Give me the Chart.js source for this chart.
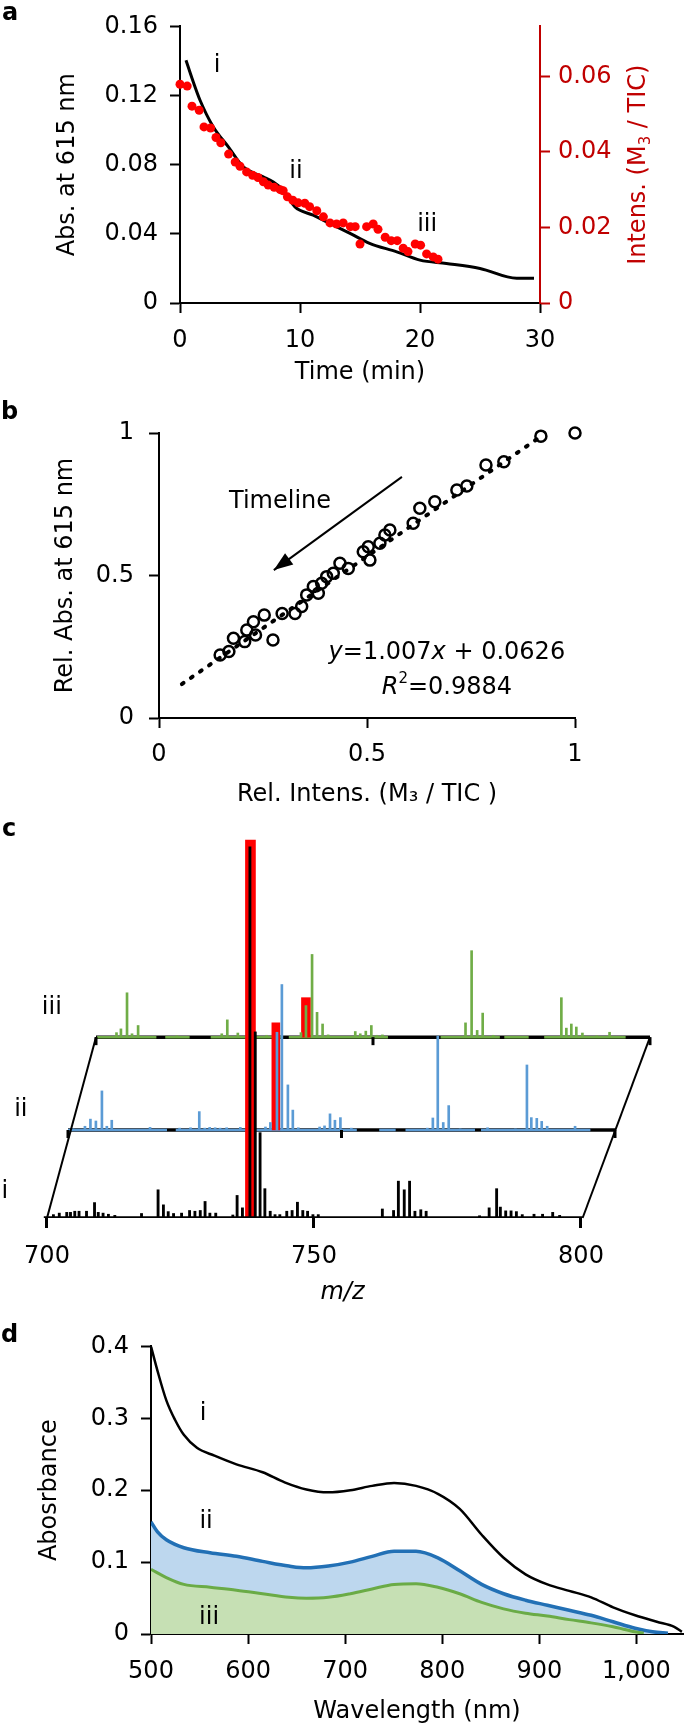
<!DOCTYPE html>
<html>
<head>
<meta charset="utf-8">
<script src="https://cdn.jsdelivr.net/npm/chart.js@4.4.1/dist/chart.umd.min.js"></script>
<style>
  html, body { margin: 0; padding: 0; background: #fff; }
  body { position: relative; width: 685px; height: 1729px; overflow: hidden; }
  canvas { position: absolute; left: 0; }
  .tag { position: absolute; z-index: 2; font: bold 24px "DejaVu Sans", sans-serif; line-height: 1; }
</style>
</head>
<body>
<canvas id="panelA" width="685" height="400" style="top:0"></canvas>
<canvas id="panelB" width="685" height="420" style="top:400px"></canvas>
<canvas id="panelC" width="685" height="500" style="top:820px"></canvas>
<canvas id="panelD" width="685" height="409" style="top:1320px"></canvas>
<div class="tag" style="left:2px;top:0px">a</div>
<div class="tag" style="left:1px;top:399px">b</div>
<div class="tag" style="left:2px;top:816px">c</div>
<div class="tag" style="left:1px;top:1322px">d</div>
<script>
// ---- panel a: absorbance (left axis) and M3 intensity (right axis) vs time
const timeTicks   = [0, 10, 20, 30];
const absTicks    = [0, 0.04, 0.08, 0.12, 0.16];
const intensTicks = [0, 0.02, 0.04, 0.06];
const absTime  = [0.5, 1.0, 1.67, 2.78, 4.03, 5.28, 6.94, 7.78, 8.6, 9.58, 11.1, 12.5, 14.17, 15.8, 18.06, 20.0, 22.2, 25.0, 28.06, 29.5];
const absValue = [0.1404, 0.130, 0.1173, 0.1018, 0.0903, 0.0787, 0.0730, 0.0700, 0.0653, 0.0556, 0.0508, 0.0460, 0.0403, 0.0345, 0.0296, 0.0248, 0.0229, 0.0200, 0.0143, 0.0143];
const intensTime  = [0, 0.6, 1.0, 1.6, 2.0, 2.55, 3.0, 3.4, 4.05, 4.6, 5.0, 5.55, 6.05, 6.5, 6.95, 7.35, 7.85, 8.35, 8.6, 8.95,
                     9.4, 9.85, 10.4, 10.8, 11.4, 11.95, 12.5, 13.05, 13.6, 14.2, 14.6, 15.0, 15.55, 16.1, 16.5, 17.1, 17.6, 18.1, 18.6, 19.0,
                     19.6, 20.05, 20.55, 21.1, 21.5];
const intensValue = [0.0579, 0.0574, 0.0521, 0.0510, 0.0466, 0.0463, 0.0438, 0.0424, 0.0394, 0.0373, 0.0362, 0.0347, 0.0338, 0.0332, 0.0321, 0.0312, 0.0306, 0.0300, 0.0297, 0.0281,
                     0.0272, 0.0265, 0.0264, 0.0255, 0.0244, 0.0228, 0.0212, 0.0209, 0.0212, 0.0202, 0.0202, 0.0156, 0.0202, 0.0209, 0.0195, 0.0174, 0.0165, 0.0165, 0.0145, 0.0136,
                     0.0156, 0.0153, 0.0130, 0.0122, 0.0116];

// ---- panel b: relative absorbance vs relative intensity
const relTicks  = [0, 0.5, 1];
const relIntens = [1.0, 0.918, 0.829, 0.786, 0.740, 0.716, 0.663, 0.627, 0.611, 0.555, 0.543, 0.531, 0.507, 0.503, 0.491, 0.455, 0.435, 0.419,
                   0.403, 0.391, 0.383, 0.371, 0.355, 0.343, 0.327, 0.296, 0.253, 0.227, 0.274, 0.232, 0.206, 0.179, 0.168, 0.147, 0.211];
const relAbs    = [1.0, 0.989, 0.899, 0.888, 0.814, 0.800, 0.759, 0.736, 0.683, 0.660, 0.642, 0.613, 0.554, 0.601, 0.583, 0.525, 0.543, 0.508,
                   0.496, 0.473, 0.438, 0.461, 0.432, 0.391, 0.367, 0.367, 0.361, 0.338, 0.274, 0.291, 0.268, 0.280, 0.233, 0.221, 0.309];
const fitX = [0.055, 0.925];
const fitY = [0.119, 0.995];
const arrowX = [0.584, 0.276];
const arrowY = [0.846, 0.519];

// ---- panel c: mass spectra i (front), ii, iii (back), relative intensity %
const mzTicks = [700, 750, 800];
const mzI   = [701.2, 702.3, 703.7, 704.4, 705.2, 706.0, 707.4, 708.9, 709.6, 710.5, 711.5, 712.7, 717.7, 720.8, 721.8, 722.7, 723.7, 725.2,
               726.7, 727.7, 728.7, 729.6, 730.5, 731.6, 734.8, 735.6, 736.6, 738.0, 739.0, 739.9, 740.8, 741.8, 742.7, 743.6, 744.9,
               745.9, 746.9, 747.9, 748.8, 749.8, 750.8, 762.8, 764.9, 765.8, 766.9, 767.9, 768.9, 770.0, 771.0, 781.0, 782.8, 784.2,
               784.9, 785.9, 786.9, 787.9, 789.0, 791.2, 792.8, 794.7, 796.0];
const intI  = [0.9, 1.3, 1.5, 1.5, 1.8, 1.8, 1.8, 4.1, 1.5, 1.3, 1.0, 0.7, 1.2, 7.5, 3.5, 1.7, 1.2, 1.3,
               2.0, 1.8, 2.0, 4.4, 1.3, 1.3, 0.8, 6.0, 2.7, 98.7, 49.5, 22.7, 7.8, 1.8, 0.9, 0.9, 1.8,
               2.0, 4.2, 2.0, 1.8, 0.9, 0.9, 2.4, 2.0, 9.8, 7.5, 9.8, 1.8, 2.2, 1.8, 0.6, 2.7, 7.8,
               2.9, 1.9, 1.9, 1.7, 0.9, 1.0, 1.0, 1.5, 0.7];
const mzII  = [700.9, 703.1, 704.1, 705.1, 706.2, 707.1, 708.0, 715.0, 720.4, 722.4, 724.0, 725.0, 725.9, 726.9, 727.8, 729.0, 731.5, 733.1,
               736.1, 737.0, 738.2, 739.1, 740.2, 741.1, 742.1, 746.0, 746.9, 747.9, 748.8, 749.8, 751.8, 765.7, 766.7, 767.6, 768.6,
               769.6, 771.7, 776.7, 781.8, 783.9, 784.7, 785.7, 786.6, 787.6, 792.7];
const intII = [0.3, 1.0, 2.9, 2.4, 10.4, 1.0, 2.6, 0.7, 0.5, 0.6, 4.9, 0.5, 0.7, 0.6, 0.5, 0.6, 0.7, 0.4,
               0.8, 2.0, 26.0, 38.7, 12.0, 5.3, 0.6, 0.8, 1.1, 4.3, 2.6, 3.3, 0.5, 0.5, 3.2, 25.0, 2.0,
               6.5, 0.3, 0.6, 0.3, 17.3, 3.3, 3.1, 2.3, 1.0, 1.0];
const mzIII  = [703.7, 704.5, 705.6, 706.5, 707.6, 714.6, 722.7, 723.7, 725.6, 730.8, 737.0, 737.9, 739.0, 739.9, 740.9, 741.9, 746.8,
                747.7, 748.7, 749.7, 750.7, 751.7, 766.7, 767.8, 768.8, 769.8, 771.7, 784.0, 784.9, 785.8, 786.7, 787.8, 790.4, 792.7];
const intIII = [1.2, 2.2, 11.8, 0.9, 3.1, 0.4, 0.9, 4.6, 1.1, 0.5, 1.2, 8.4, 22.0, 6.6, 3.5, 0.6, 1.5,
                0.9, 1.6, 3.1, 0.5, 0.6, 3.8, 23.0, 1.8, 6.4, 0.5, 10.5, 2.4, 3.5, 2.7, 1.1, 0.4, 1.3];
const m3Mz  = [738.1, 738.0, 737.9];   // highlighted M3 peak in i, ii, iii
const m3Top = [100.5, 28.5, 10.5];
const baseSegsII  = [[700, 718.1], [719.7, 752.8], [756.9, 759.9], [761.7, 774.4], [775.5, 795.5]];
const baseSegsIII = [[700.2, 710.9], [712.5, 716.9], [720.7, 733.6], [734.8, 752.7], [762.2, 772.9], [773.7, 778.1], [780.9, 795.6]];

// ---- panel d: absorption spectra
const wlTicks  = [500, 600, 700, 800, 900, 1000];
const absDTicks = [0, 0.1, 0.2, 0.3, 0.4];
const wlI   = [500, 506.7, 515.8, 524.7, 533.8, 547.3, 565.4, 588, 615, 637.6, 660.1, 682.7, 705.3, 727.8, 750.4, 773, 795.5, 818,
               840.6, 863.2, 885.8, 908.3, 930.8, 953.4, 976, 998.6, 1021, 1039, 1046.8];
const absI  = [0.400, 0.366, 0.325, 0.298, 0.277, 0.259, 0.248, 0.236, 0.225, 0.211, 0.201, 0.197, 0.200, 0.206, 0.210, 0.206, 0.195, 0.174,
               0.138, 0.106, 0.083, 0.069, 0.060, 0.051, 0.037, 0.026, 0.017, 0.010, 0.003];
const wlII  = [500, 506.7, 515.8, 533.8, 560.9, 588, 615, 642, 660, 682.7, 705.3, 727.8, 750.4, 773, 795.5, 818, 840.6, 863.2,
               885.8, 908.3, 930.8, 953.4, 976, 998.6, 1016.7, 1032.5];
const absII = [0.156, 0.142, 0.131, 0.120, 0.113, 0.108, 0.101, 0.0945, 0.092, 0.0945, 0.100, 0.108, 0.115, 0.115, 0.106, 0.088, 0.069, 0.056,
               0.047, 0.040, 0.033, 0.026, 0.017, 0.008, 0.003, 0.001];
const wlIII  = [500, 515.8, 533.8, 560.9, 588, 615, 642, 660, 682.7, 705.3, 727.8, 750.4, 773, 795.5, 818, 840.6, 863.2, 885.8,
                908.3, 930.8, 953.4, 976, 998.6, 1007.6];
const absIII = [0.090, 0.0785, 0.069, 0.065, 0.061, 0.056, 0.051, 0.0497, 0.051, 0.056, 0.0626, 0.069, 0.070, 0.065, 0.056, 0.044, 0.035, 0.029,
                0.025, 0.020, 0.0155, 0.010, 0.003, 0.001];

const FAMILY = '"DejaVu Sans", sans-serif';
const RED_AXIS = '#c00000';
Chart.defaults.font.family = FAMILY;
Chart.defaults.color = '#000';
Chart.defaults.animation = false;
Chart.defaults.responsive = false;
Chart.defaults.devicePixelRatio = 1;
Chart.defaults.plugins.legend.display = false;
Chart.defaults.plugins.tooltip.enabled = false;

function pairs(xs, ys) { return xs.map((x, i) => ({ x: x, y: ys[i] })); }
function fixedTicks(values) { return scale => { scale.ticks = values.map(v => ({ value: v })); }; }
function numLabel(v) { return v === 0 ? '0' : String(+v.toFixed(3)); }

function richText(ctx, parts, x, y, size, color) {
  const fontFor = p => (p.italic ? 'italic ' : '') + ((p.sup || p.sub) ? Math.round(size * 0.62) : size) + 'px ' + FAMILY;
  let total = 0;
  const widths = parts.map(p => { ctx.font = fontFor(p); const w = ctx.measureText(p.text).width; total += w; return w; });
  let cx = x - total / 2;
  ctx.fillStyle = color;
  ctx.textAlign = 'left';
  ctx.textBaseline = 'middle';
  parts.forEach((p, i) => {
    ctx.font = fontFor(p);
    const dy = p.sup ? -size * 0.36 : p.sub ? size * 0.3 : 0;
    ctx.fillText(p.text, cx, y + dy);
    cx += widths[i];
  });
}

// text notes placed at data coordinates
const notesPlugin = {
  id: 'notes',
  afterDatasetsDraw(chart, args, opts) {
    const ctx = chart.ctx;
    ctx.save();
    (opts.items || []).forEach(n => {
      const px = chart.scales[n.xAxis || 'x'].getPixelForValue(n.x);
      const py = chart.scales[n.yAxis || 'y'].getPixelForValue(n.y);
      richText(ctx, n.parts, px, py, n.size || 24, n.color || '#000');
    });
    ctx.restore();
  }
};

function axis(o) {
  const color = o.color || '#000';
  return {
    type: 'linear', position: o.position, min: o.min, max: o.max, offset: false,
    afterBuildTicks: fixedTicks(o.ticks),
    afterFit: s => { if (o.width != null) s.width = o.width; if (o.height != null) s.height = o.height; },
    grid: { drawOnChartArea: false, drawTicks: true, tickLength: 10, tickWidth: 2, tickColor: color, offset: false },
    border: { display: true, color: color, width: 2 },
    ticks: { color: color, font: { size: o.size || 24 }, padding: o.pad, callback: o.fmt || numLabel },
    title: o.title ? { display: true, text: o.title, color: color, font: { size: o.size || 24, style: o.titleStyle || 'normal' },
                       padding: o.titlePad } : { display: false }
  };
}

// ================= panel a =================
new Chart(document.getElementById('panelA'), {
  type: 'line',
  data: { datasets: [
    { data: pairs(intensTime, intensValue), yAxisID: 'y2', showLine: false, pointRadius: 4.5,
      pointBackgroundColor: '#ff0000', pointBorderWidth: 0, clip: false, order: 0 },
    { data: pairs(absTime, absValue), yAxisID: 'y', borderColor: '#000', borderWidth: 3, pointRadius: 0,
      cubicInterpolationMode: 'monotone', order: 1 }
  ]},
  options: {
    layout: { padding: { top: 26 } },
    scales: {
      x: axis({ position: 'bottom', min: 0, max: 30, ticks: timeTicks, height: 97, pad: 13, fmt: v => String(v),
                title: 'Time (min)', titlePad: { top: 0, bottom: 12.6 } }),
      y: axis({ position: 'left', min: 0, max: 0.16, ticks: absTicks, width: 180, pad: 12,
                title: 'Abs. at 615 nm', titlePad: { top: 53.6, bottom: 0 } }),
      y2: axis({ position: 'right', min: 0, max: 0.0732, ticks: intensTicks, width: 145, pad: 8, color: RED_AXIS })
    },
    plugins: { notes: { items: [
      { x: 3.08, y: 0.1375, parts: [{ text: 'i' }] },
      { x: 9.67, y: 0.0757, parts: [{ text: 'ii' }] },
      { x: 20.6, y: 0.0451, parts: [{ text: 'iii' }] }
    ]}}
  },
  plugins: [notesPlugin, {
    id: 'rightTitle',
    afterDraw(chart) {
      const s = chart.scales.y2, ctx = chart.ctx;
      ctx.save();
      ctx.translate(s.right - 46, (s.top + s.bottom) / 2);
      ctx.rotate(-Math.PI / 2);
      richText(ctx, [{ text: 'Intens. (M' }, { text: '3', sub: true }, { text: ' / TIC)' }], 0, 0, 24, RED_AXIS);
      ctx.restore();
    }
  }]
});

// ================= panel b =================
new Chart(document.getElementById('panelB'), {
  type: 'line',
  data: { datasets: [
    { data: pairs(relIntens, relAbs), showLine: false, pointRadius: 5.5, pointBorderWidth: 2.5,
      pointBorderColor: '#000', pointBackgroundColor: 'rgba(0,0,0,0)', clip: false },
    { data: pairs(fitX, fitY), borderColor: '#000', borderWidth: 4, borderDash: [2, 9], borderCapStyle: 'round',
      pointRadius: 0, clip: false },
    { data: pairs(arrowX, arrowY), borderColor: '#000', borderWidth: 2, pointRadius: 0 }
  ]},
  options: {
    layout: { padding: { top: 33, right: 110 } },
    scales: {
      x: axis({ position: 'bottom', min: 0, max: 1, ticks: relTicks, height: 102, pad: 12,
                title: 'Rel. Intens. (M\u2083 / TIC )', titlePad: { top: 0, bottom: 10.6 } }),
      y: axis({ position: 'left', min: 0, max: 1, ticks: relTicks, width: 159, pad: 15,
                title: 'Rel. Abs. at 615 nm', titlePad: { top: 51.6, bottom: 0 } })
    },
    plugins: { notes: { items: [
      { x: 0.291, y: 0.758, parts: [{ text: 'Timeline' }] },
      { x: 0.692, y: 0.228, parts: [{ text: 'y', italic: true }, { text: '=1.007' }, { text: 'x', italic: true }, { text: ' + 0.0626' }] },
      { x: 0.692, y: 0.105, parts: [{ text: 'R', italic: true }, { text: '2', sup: true }, { text: '=0.9884' }] }
    ]}}
  },
  plugins: [notesPlugin, {
    id: 'arrowHead',
    afterDatasetsDraw(chart) {
      const pts = chart.getDatasetMeta(2).data, ctx = chart.ctx;
      const a = pts[0], b = pts[1];
      ctx.save();
      ctx.translate(b.x, b.y);
      ctx.rotate(Math.atan2(b.y - a.y, b.x - a.x));
      ctx.fillStyle = '#000';
      ctx.beginPath(); ctx.moveTo(0, 0); ctx.lineTo(-19, -7); ctx.lineTo(-19, 7); ctx.closePath(); ctx.fill();
      ctx.restore();
    }
  }]
});

// ================= panel c =================
const C_WIDTH = 685;
function layerX(px700, px800) {
  const unit = (px800 - px700) / 100;
  return { min: 700 - px700 / unit, max: 800 + (C_WIDTH - px800) / unit };
}
const Y_SPAN = 103.2;
function layerY(offset) { return { min: -offset, max: Y_SPAN - offset }; }
function hiddenScale(range) { return { type: 'linear', display: false, offset: false, min: range.min, max: range.max }; }
function segLine(segs) {
  const out = [];
  segs.forEach(s => { out.push({ x: s[0], y: 0 }, { x: s[1], y: 0 }, { x: s[1], y: null }); });
  return out;
}
const GREEN = '#70ad47', BLUE = '#5b9bd5';
const rangeI = layerX(47, 581), rangeII = layerX(68, 615), rangeIII = layerX(96, 650);

function peaks(mz, val, color, xa, ya, thick, order) {
  return { type: 'bar', data: pairs(mz, val), xAxisID: xa, yAxisID: ya, backgroundColor: color, borderWidth: 0,
           barThickness: thick, grouped: false, order: order };
}
function base(data, color, width, xa, ya, order) {
  return { type: 'line', data: data, xAxisID: xa, yAxisID: ya, borderColor: color, borderWidth: width,
           pointRadius: 0, spanGaps: false, order: order };
}

new Chart(document.getElementById('panelC'), {
  type: 'bar',
  data: { datasets: [
    base([{ x: 700, y: 0 }, { x: 800, y: 0 }], '#000', 3.5, 'x3', 'y3', 100),
    base(segLine(baseSegsIII), GREEN, 2.5, 'x3', 'y3', 99),
    peaks([m3Mz[2]], [m3Top[2]], '#ff0000', 'x3', 'y3', 9, 98),
    peaks(mzIII, intIII, GREEN, 'x3', 'y3', 2, 97),
    base([{ x: 700, y: 0 }, { x: 800, y: 0 }], '#000', 3.5, 'x2', 'y2', 90),
    base(segLine(baseSegsII), BLUE, 2.5, 'x2', 'y2', 89),
    peaks([m3Mz[1]], [m3Top[1]], '#ff0000', 'x2', 'y2', 8, 88),
    peaks(mzII, intII, BLUE, 'x2', 'y2', 2, 87),
    peaks([m3Mz[0]], [m3Top[0]], '#ff0000', 'x', 'y', 10, 80),
    base([{ x: 699.4, y: 0 }, { x: 800.3, y: 0 }], '#000', 3.5, 'x', 'y', 79),
    peaks(mzI, intI, '#000', 'x', 'y', 2.2, 78)
  ]},
  options: {
    indexAxis: 'x',
    layout: { padding: { top: 10, left: 0, right: 0 } },
    scales: {
      x: {
        type: 'linear', position: 'bottom', min: rangeI.min, max: rangeI.max, offset: false,
        afterBuildTicks: fixedTicks(mzTicks),
        afterFit: s => { s.height = 102; },
        grid: { drawOnChartArea: false, drawTicks: true, tickLength: 10, tickWidth: 3, tickColor: '#000', offset: false },
        border: { display: false },
        ticks: { font: { size: 24 }, padding: 14, callback: v => String(v) },
        title: { display: true, text: 'm/z', font: { size: 24, style: 'italic' }, padding: { top: 0, bottom: 13 } }
      },
      y: hiddenScale(layerY(0)),
      x2: hiddenScale(rangeII), y2: hiddenScale(layerY(23.4)),
      x3: hiddenScale(rangeIII), y3: hiddenScale(layerY(48.1))
    },
    plugins: { notes: { items: [
      { x: 700.9, y: 55.9, parts: [{ text: 'iii' }] },
      { x: 695.1, y: 28.7, parts: [{ text: 'ii' }] },
      { x: 692.1, y: 6.9, parts: [{ text: 'i' }] }
    ]}}
  },
  plugins: [notesPlugin, {
    id: 'stackFrame',
    afterDatasetsDraw(chart) {
      const s = chart.scales, ctx = chart.ctx;
      ctx.save();
      ctx.strokeStyle = '#000';
      ctx.lineWidth = 2;
      [[700, 700], [800.3, 800]].forEach(e => {
        ctx.beginPath();
        ctx.moveTo(s.x.getPixelForValue(e[0]), s.y.getPixelForValue(0));
        ctx.lineTo(s.x3.getPixelForValue(e[1]), s.y3.getPixelForValue(0));
        ctx.stroke();
      });
      ctx.lineWidth = 3;
      [['x2', 'y2'], ['x3', 'y3']].forEach(ax => {
        mzTicks.forEach(v => {
          const px = s[ax[0]].getPixelForValue(v), py = s[ax[1]].getPixelForValue(0);
          ctx.beginPath(); ctx.moveTo(px, py); ctx.lineTo(px, py + 8); ctx.stroke();
        });
      });
      ctx.restore();
    }
  }]
});

// ================= panel d =================
new Chart(document.getElementById('panelD'), {
  type: 'line',
  data: { datasets: [
    { data: pairs(wlI, absI), borderColor: '#000', borderWidth: 2.5, pointRadius: 0, cubicInterpolationMode: 'monotone', order: 0 },
    { data: pairs(wlIII, absIII), borderColor: '#6aab46', backgroundColor: '#c6e0b4', fill: 'origin', borderWidth: 3,
      pointRadius: 0, cubicInterpolationMode: 'monotone', order: 1 },
    { data: pairs(wlII, absII), borderColor: '#2270b5', backgroundColor: '#bdd7ee', fill: 'origin', borderWidth: 3.5,
      pointRadius: 0, cubicInterpolationMode: 'monotone', order: 2 }
  ]},
  options: {
    layout: { padding: { top: 22, right: 2 } },
    scales: {
      x: axis({ position: 'bottom', min: 500, max: 1048, ticks: wlTicks, height: 95, pad: 13,
                fmt: v => v.toLocaleString('en-US'), title: 'Wavelength (nm)', titlePad: { top: 0, bottom: 2.6 } }),
      y: axis({ position: 'left', min: 0, max: 0.4, ticks: absDTicks, width: 151, pad: 12,
                title: 'Abosrbance', titlePad: { top: 35.6, bottom: 0 } })
    },
    plugins: { notes: { items: [
      { x: 553.6, y: 0.307, parts: [{ text: 'i' }] },
      { x: 556.7, y: 0.156, parts: [{ text: 'ii' }] },
      { x: 559.8, y: 0.023, parts: [{ text: 'iii' }] }
    ]}}
  },
  plugins: [notesPlugin]
});
</script>
</body>
</html>
